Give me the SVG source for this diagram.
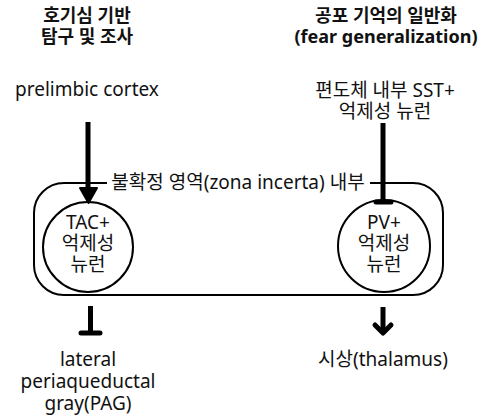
<svg xmlns="http://www.w3.org/2000/svg" width="485" height="419" viewBox="0 0 485 419">
<style>
text{font-family:"Noto Sans","Noto Sans CJK KR",sans-serif;font-size:19px;fill:#111;text-anchor:middle}
.b{font-weight:bold;font-size:18px}
.edge{fill:none;stroke:#000;stroke-width:2}
.node{fill:#fff;stroke:#000;stroke-width:2}
.wire{fill:none;stroke:#000;stroke-width:5}
</style>
<rect width="485" height="419" fill="#fff"/>
<g id="heading-left">
<text class="b" x="87" y="22">호기심 기반<tspan x="87" dy="21">탐구 및 조사</tspan></text>
</g>
<g id="heading-right">
<text class="b" x="386" y="22">공포 기억의 일반화<tspan x="386" dy="21">(fear generalization)</tspan></text>
</g>
<g id="zona-incerta">
<path class="edge" d="M107,183 H64 A30,30 0 0 0 34,213 V265 A30,30 0 0 0 64,295 H413 A30,30 0 0 0 443,265 V213 A30,30 0 0 0 413,183 H370"/>
<text x="238" y="189">불확정 영역(zona incerta) 내부</text>
</g>
<g id="prelimbic">
<text x="87" y="96">prelimbic cortex</text>
</g>
<g id="sst">
<text x="385" y="97">편도체 내부 SST+<tspan x="385" dy="21">억제성 뉴런</tspan></text>
</g>
<g id="tac">
<circle class="node" cx="88" cy="247" r="45"/>
<text x="88" y="229">TAC+<tspan x="88" dy="21">억제성</tspan><tspan x="88" dy="21">뉴런</tspan></text>
</g>
<g id="pv">
<circle class="node" cx="384" cy="246" r="46"/>
<text x="384" y="229">PV+<tspan x="384" dy="21">억제성</tspan><tspan x="384" dy="21">뉴런</tspan></text>
</g>
<g id="pag">
<text x="88" y="366">lateral<tspan x="88" dy="22">periaqueductal</tspan><tspan x="88" dy="22">gray(PAG)</tspan></text>
</g>
<g id="thalamus">
<text x="383" y="366">시상(thalamus)</text>
</g>
<g id="connectors">
<line class="wire" x1="88" y1="122" x2="88" y2="190"/>
<polygon points="80,188 97,188 88.5,203" fill="#000" stroke="#000" stroke-width="2" stroke-linejoin="round"/>
<line class="wire" x1="383" y1="123" x2="383" y2="201"/>
<line class="wire" x1="376" y1="202" x2="391" y2="202" stroke-linecap="round"/>
<line class="wire" x1="90.5" y1="306" x2="90.5" y2="332"/>
<line class="wire" x1="81" y1="333" x2="100" y2="333" stroke-linecap="round"/>
<line class="wire" x1="383" y1="307" x2="383" y2="333"/>
<polyline class="wire" points="375,325 383,333 391,325" stroke-linecap="round" stroke-linejoin="round"/>
</g>
</svg>
